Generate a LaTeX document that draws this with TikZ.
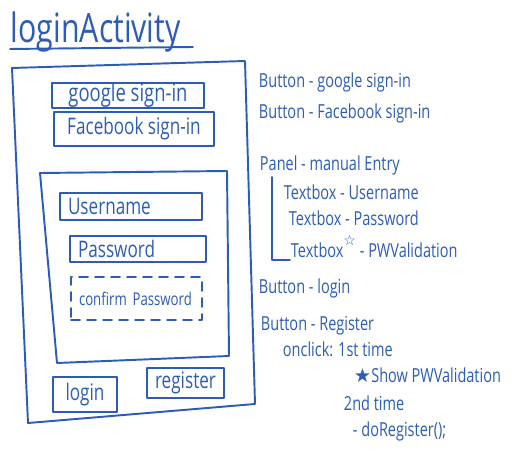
\documentclass[tikz,border=0pt]{standalone}
\usepackage{fontspec}
\usepackage{xcolor}
\newfontfamily\sketchfont[FakeStretch=0.75]{Open Sans}
\newfontfamily\symfont{DejaVu Sans}
\definecolor{sketch}{RGB}{44,92,184}

\begin{document}
\begin{tikzpicture}[x=0.02cm, y=-0.02cm, line width=1.1pt, color=sketch,
    line join=round, line cap=round,
    field/.style={draw, rectangle, inner sep=0pt, font=\sketchfont\fontsize{13}{15}\selectfont},
    leftfield/.style={field, align=left, inner xsep=0.16cm},
    note/.style={anchor=base west, inner sep=0pt, font=\sketchfont\fontsize{11}{13}\selectfont}]
    \useasboundingbox (0,0) rectangle (514,452);

    % title
    \node[anchor=base west, inner sep=0pt, font=\sketchfont\fontsize{23}{26}\selectfont] at (10,43) (title) {loginActivity};
    \draw (10,49) -- (193,47);

    % phone frame and panel
    \draw (12,68) -- (245,61) -- (255,404) -- (28,423) -- cycle;
    \draw (40,173) -- (227,171) -- (229,356) -- (57,363) -- cycle;

    % widgets
    \node[field, minimum width=3.04cm, minimum height=0.5cm, font=\sketchfont\fontsize{14}{16}\selectfont] at (128,95.5) (google) {google sign-in};
    \node[field, minimum width=3.2cm, minimum height=0.68cm, font=\sketchfont\fontsize{13}{15}\selectfont] at (134,129) (facebook) {Facebook sign-in};
    \node[leftfield, text width=2.52cm, minimum height=0.54cm] at (131,206.5) (username) {Username};
    \node[leftfield, text width=2.4cm, minimum height=0.52cm] at (138,249) (password) {Password};
    \node[leftfield, text width=2.3cm, minimum height=0.86cm, dash pattern=on 0.18cm off 0.14cm,
          font=\sketchfont\fontsize{10}{12}\selectfont] at (136.5,298.5) (confirm) {\mbox{confirm Password}};
    \node[field, minimum width=1.28cm, minimum height=0.7cm] at (85,394.5) (login) {login};
    \node[field, minimum width=1.54cm, minimum height=0.6cm] at (185.5,383) (register) {register};

    % notes
    \node[note] at (258,88) (ngoogle) {Button - google sign-in};
    \node[note] at (258,119) (nfacebook) {Button - Facebook sign-in};
    \node[note] at (259,171) (npanel) {Panel - manual Entry};
    \node[note] at (283,200) (nuser) {Textbox - Username};
    \node[note] at (288,226) (npass) {Textbox - Password};
    \node[note] at (290,258) (npwv) {Textbox\raisebox{1.2ex}{\symfont\fontsize{8}{9}\selectfont ☆} - PWValidation};
    \coordinate (brtop) at (272,177);
    \draw (brtop) |- ([yshift=-1pt]npwv.base west);

    \node[note] at (258,294) (nlogin) {Button - login};
    \node[note] at (260,331) (nregister) {Button - Register};
    \node[note] at (282,357) (nonclick) {onclick: 1st time};
    \node[note] at (353,383) (nshow) {{\symfont ★}Show PWValidation};
    \node[note] at (343,411) (nsecond) {2nd time};
    \node[note] at (352,437) (ndo) {- doRegister();};
\end{tikzpicture}
\end{document}
